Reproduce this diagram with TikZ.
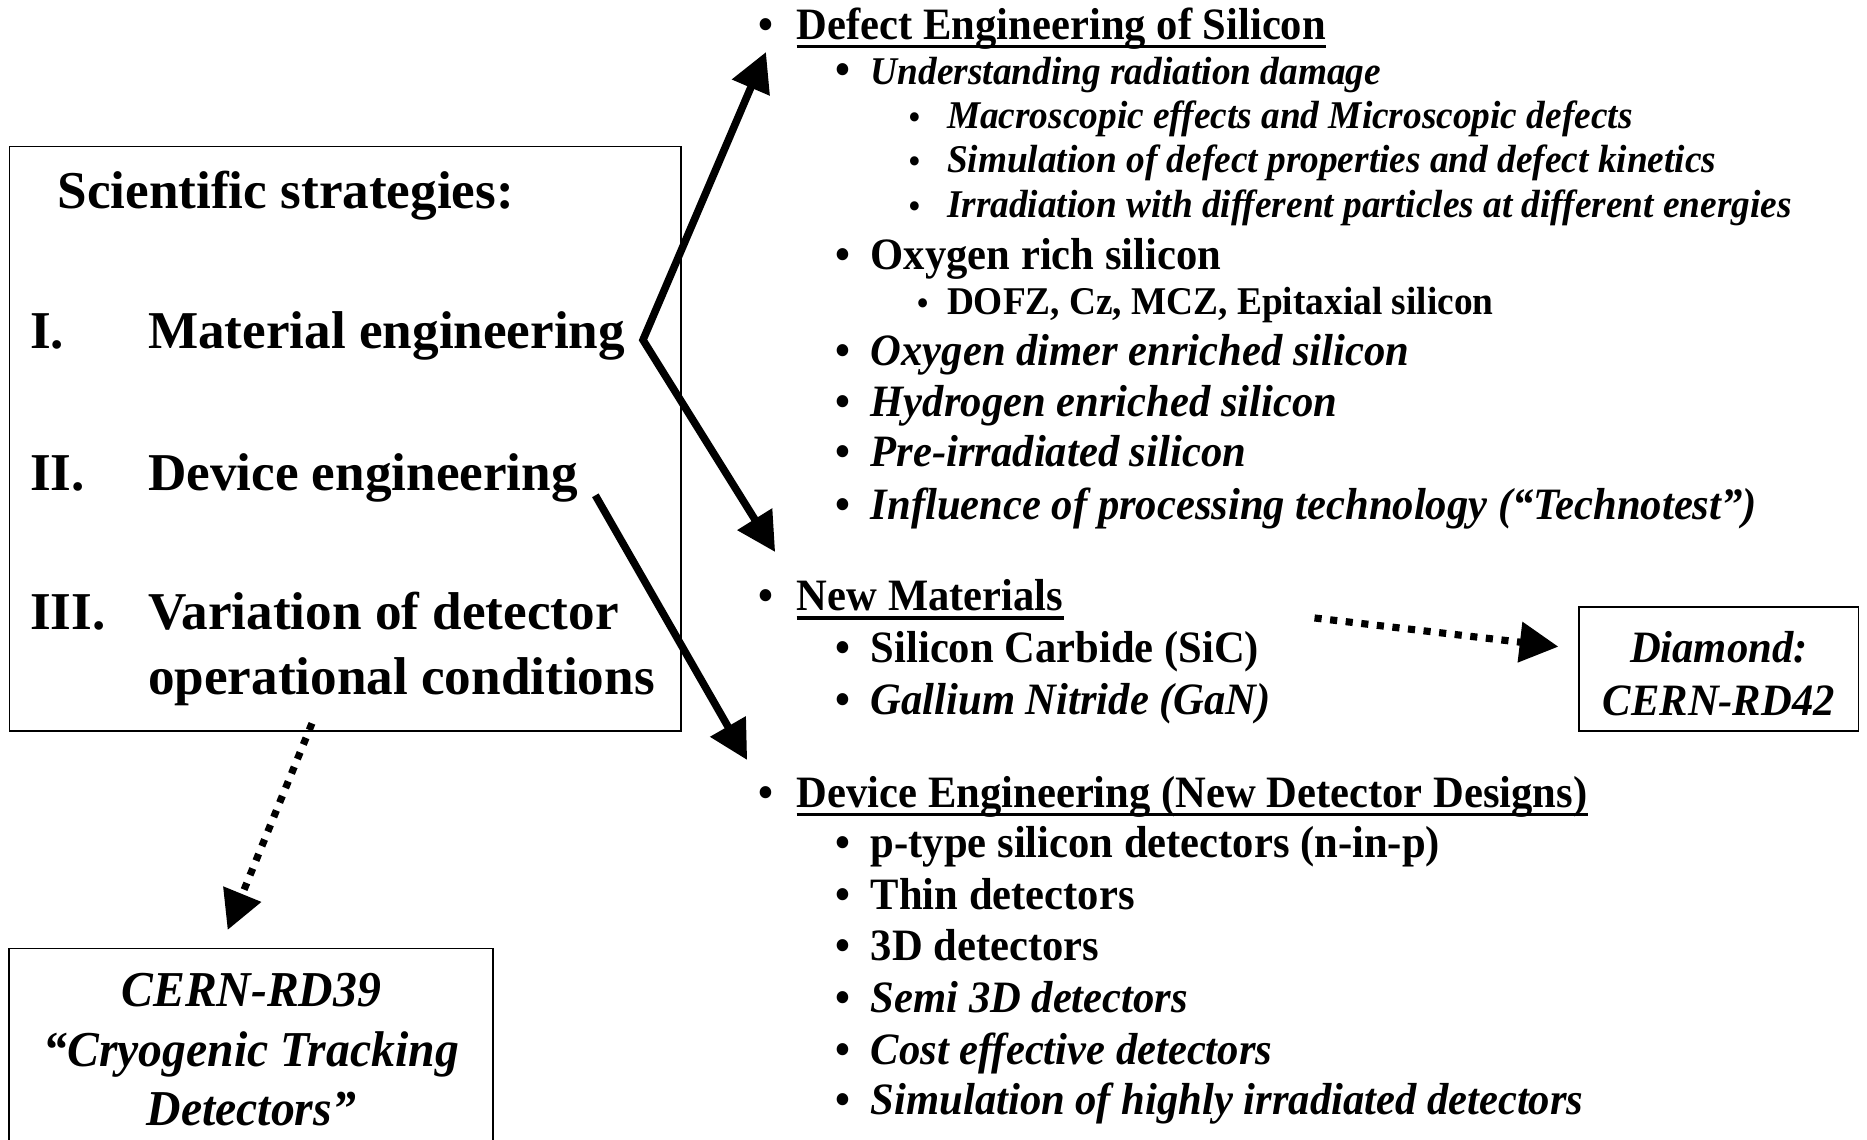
\documentclass[tikz,border=0pt]{standalone}
\usepackage{fontspec}
\setmainfont{Liberation Serif}
\newfontfamily\narrowserif[FakeStretch=0.95]{Liberation Serif}
\usetikzlibrary{arrows.meta,calc}

\tikzset{
  frame/.style={draw, line width=0.8pt, inner sep=0pt},
  bigtxt/.style={anchor=base west, inner sep=0pt,
    font=\fontsize{26.8}{30}\selectfont\bfseries},
  lvone/.style={anchor=base west, inner sep=0pt,
    font=\narrowserif\fontsize{22.6}{26}\selectfont\bfseries},
  lvtwo/.style={anchor=base west, inner sep=0pt,
    font=\narrowserif\fontsize{19.8}{23}\selectfont\bfseries},
  bulone/.style={anchor=base, inner sep=0pt,
    font=\narrowserif\fontsize{22.6}{26}\selectfont\bfseries},
  bultwo/.style={anchor=base, inner sep=0pt,
    font=\narrowserif\fontsize{17}{20}\selectfont\bfseries},
  boxtxt/.style={anchor=base, inner sep=0pt,
    font=\narrowserif\fontsize{25.3}{29}\selectfont\bfseries\itshape},
  smallbox/.style={anchor=base, inner sep=0pt,
    font=\narrowserif\fontsize{22.6}{26}\selectfont\bfseries\itshape},
  headline/.style={line width=1.7pt},
  thickarrow/.style={line width=3.8pt, line join=miter,
    -{Triangle[length=19.5pt,width=19.8pt]}},
  dotarrow/.style={line width=3.6pt, dash pattern=on 3.6pt off 4.3pt,
    -{Triangle[length=19.5pt,width=19.8pt]}},
}

\begin{document}
\begin{tikzpicture}[x=0.6pt,y=-0.6pt]
\useasboundingbox (0,0) rectangle (1568,957);

% ---- left block: strategies ----
\node[frame, minimum width=338.4pt, minimum height=294.6pt] (strat) at (290,368.5) {};
\node[bigtxt] (title) at (48,175) {Scientific strategies:};
\node[bigtxt] (n1) at (25,293) {I.};
\node[bigtxt] (s1) at (124,293) {Material engineering};
\node[bigtxt] (n2) at (25,412) {II.};
\node[bigtxt] (s2) at (124,412) {Device engineering};
\node[bigtxt] (n3) at (25,529) {III.};
\node[bigtxt] (s3) at (124,529) {Variation of detector};
\node[bigtxt] (s3b) at (124,583) {operational conditions};

% ---- bottom left box ----
\node[minimum width=243.4pt, minimum height=99.6pt, inner sep=0pt] (rd39) at (210.8,880) {};
\draw[line width=0.8pt] (rd39.south west) |- (rd39.north east) -- (rd39.south east);
\node[boxtxt] (rd39a) at (211,845) {CERN-RD39};
\node[boxtxt] (rd39b) at (211,896) {“Cryogenic Tracking};
\node[boxtxt] (rd39c) at (211,945) {Detectors”};

% ---- diamond box ----
\node[frame, minimum width=141pt, minimum height=62.4pt] (rd42) at (1443.5,562) {};
\node[smallbox] (rd42a) at (1443.5,556) {Diamond:};
\node[smallbox] (rd42b) at (1443.5,601) {CERN-RD42};

% ---- right column: section heads ----
\node[bulone] (bh1) at (643,33) {•};
\node[lvone] (h1) at (669,33) {Defect Engineering of Silicon};
\node[bulone] (bh2) at (643,513) {•};
\node[lvone] (h2) at (669,513) {New Materials};
\node[bulone] (bh3) at (643,678) {•};
\node[lvone] (h3) at (669,678) {Device Engineering (New Detector Designs)};
\foreach \h in {h1,h2,h3}
  \draw[headline] ($(\h.base west)+(0,6)$) -- ($(\h.base east)+(0,6)$);

% ---- first level items ----
\foreach \nm/\y in {ba1/71,ba2/226,ba3/307,ba4/350,ba5/392,ba6/436,
                    ba7/556,ba8/600,ba9/720,ba10/764,ba11/807,ba12/850,
                    ba13/894,ba14/936}
  \node[bulone] (\nm) at (708,\y) {•};
\node[lvtwo] (a1) at (731,71) {\itshape Understanding radiation damage};
\node[lvone] (a2) at (731,226) {Oxygen rich silicon};
\node[lvone] (a3) at (731,307) {\itshape Oxygen dimer enriched silicon};
\node[lvone] (a4) at (731,350) {\itshape Hydrogen enriched silicon};
\node[lvone] (a5) at (731,392) {\itshape Pre-irradiated silicon};
\node[lvone] (a6) at (731,436) {\itshape Influence of processing technology (“Technotest”)};
\node[lvone] (a7) at (731,556) {Silicon Carbide (SiC)};
\node[lvone] (a8) at (731,600) {\itshape Gallium Nitride (GaN)};
\node[lvone] (a9) at (731,720) {p-type silicon detectors (n-in-p)};
\node[lvone] (a10) at (731,764) {Thin detectors};
\node[lvone] (a11) at (731,807) {3D detectors};
\node[lvone] (a12) at (731,850) {\itshape Semi 3D detectors};
\node[lvone] (a13) at (731,894) {\itshape Cost effective detectors};
\node[lvone] (a14) at (731,936) {\itshape Simulation of highly irradiated detectors};

% ---- second level items ----
\foreach \nm/\x/\y in {bb1/768/108,bb2/768/145,bb3/768/183,bb4/775/264}
  \node[bultwo] (\nm) at (\x,\y) {•};
\node[lvtwo] (b1) at (795,108) {\itshape Macroscopic effects and Microscopic defects};
\node[lvtwo] (b2) at (795,145) {\itshape Simulation of defect properties and defect kinetics};
\node[lvtwo] (b3) at (795,183) {\itshape Irradiation with different particles at different energies};
\node[lvtwo] (b4) at (795,264) {DOFZ, Cz, MCZ, Epitaxial silicon};

% ---- connectors ----
\coordinate (fork) at (540,285.5);
\coordinate (tipdefect) at (643.3,43.7);
\coordinate (tipnew) at (651,463.6);
\coordinate (devstart) at (500,416);
\coordinate (tipdevice) at (627.5,638.3);
\coordinate (cryostart) at (262,607.5);
\coordinate (tipcryo) at (191.2,781);
\coordinate (diastart) at (1104,519);
\coordinate (tipdia) at (1308.8,543.1);

\draw[thickarrow, {Triangle[length=19.5pt,width=19.8pt]}-{Triangle[length=19.5pt,width=19.8pt]}]
  (tipdefect) -- (fork) -- (tipnew);
\draw[thickarrow] (devstart) -- (tipdevice);
\draw[dotarrow] (cryostart) -- (tipcryo);
\draw[dotarrow] (diastart) -- (tipdia);
\end{tikzpicture}
\end{document}
